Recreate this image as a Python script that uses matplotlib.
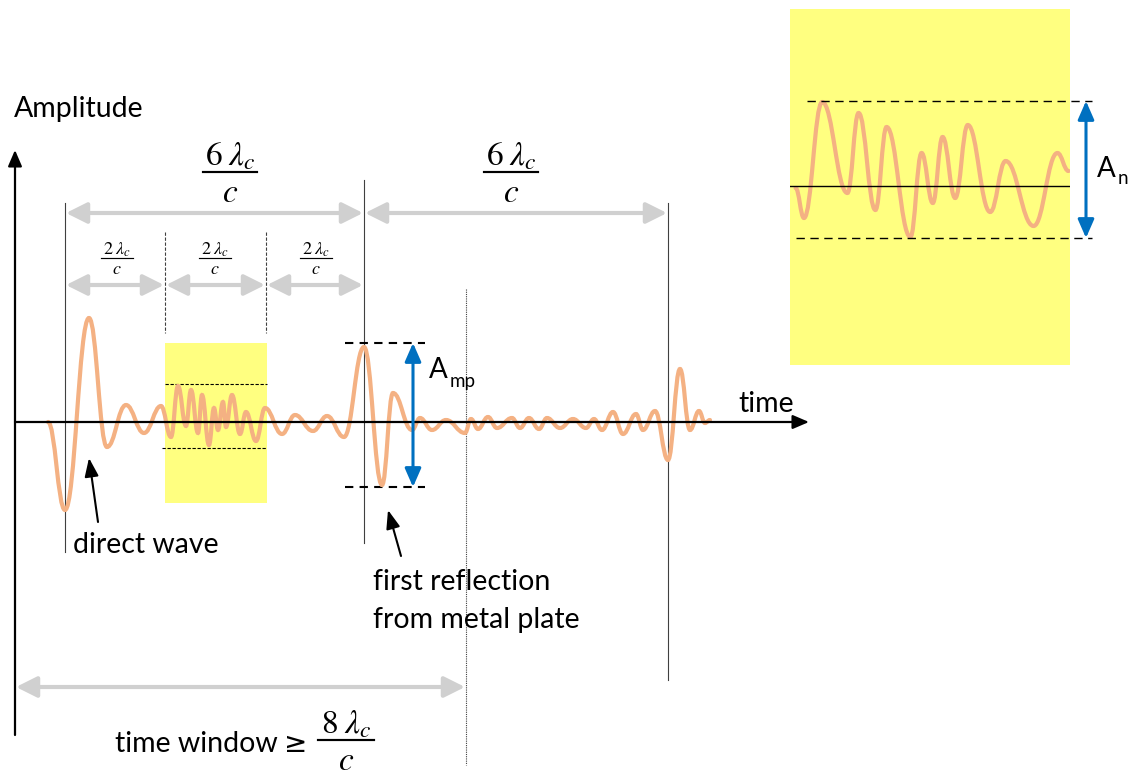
import matplotlib
matplotlib.use("Agg")
import matplotlib.pyplot as plt
from matplotlib.path import Path
from matplotlib.patches import PathPatch, FancyArrowPatch, Rectangle
import matplotlib.transforms as mtransforms

plt.rcParams['mathtext.fontset'] = 'stix'
FONT = 'Lato'

# ----------------------------
# DATA (time in lambda_c / c units, amplitude arbitrary)
# ----------------------------

# extrema of the recorded trace
wave_t = [-0.34, 0.00, 0.48, 0.84, 1.22, 1.58, 1.92, 2.12, 2.26, 2.42, 2.52, 2.66,
          2.74, 2.88, 2.98, 3.06, 3.16, 3.22, 3.34, 3.50, 3.62, 3.82, 4.00, 4.34,
          4.60, 4.96, 5.24, 5.58, 5.98, 6.34, 6.56, 6.94, 7.10, 7.34, 7.62, 8.00,
          8.12, 8.26, 8.46, 8.64, 8.94, 9.10, 9.28, 9.48, 9.64, 9.90, 10.16, 10.42,
          10.58, 10.74, 10.96, 11.16, 11.42, 11.56, 11.80, 12.06, 12.30, 12.50,
          12.68, 12.80, 12.90]
wave_a = [0.00, -0.88, 1.04, -0.25, 0.17, -0.11, 0.16, -0.15, 0.36, -0.04, 0.32, -0.11,
          0.27, -0.23, 0.14, -0.08, 0.20, -0.05, 0.27, -0.12, 0.10, -0.19, 0.14, -0.12,
          0.07, -0.09, 0.06, -0.15, 0.75, -0.63, 0.29, -0.08, 0.04, -0.08, 0.02, -0.11,
          0.03, -0.07, 0.05, -0.06, 0.04, -0.06, 0.04, -0.07, 0.04, -0.06, 0.03, -0.06,
          0.03, -0.08, 0.10, -0.12, 0.08, -0.08, 0.11, -0.38, 0.53, -0.08,
          0.11, -0.01, 0.02]

# zoomed noise window (t = 2 .. 4)
zoom_t = [2.04, 2.10, 2.23, 2.41, 2.49, 2.61, 2.69, 2.86, 2.94, 3.02, 3.09,
          3.18, 3.27, 3.43, 3.54, 3.74, 3.91, 3.99]
zoom_a = [-0.02, -0.32, 0.84, -0.07, 0.73, -0.24, 0.59, -0.51, 0.33, -0.17, 0.49,
          -0.12, 0.61, -0.26, 0.25, -0.40, 0.33, 0.15]

WAVE = '#F4B183'
GREY = '#D0D0D0'
BLUE = '#0070C0'


def smooth_path(xs, ys):
    # bezier through the extrema, flat at each turning point
    verts = [(xs[0], ys[0])]
    codes = [Path.MOVETO]
    for i in range(1, len(xs)):
        dx = xs[i] - xs[i - 1]
        verts += [(xs[i - 1] + 0.42 * dx, ys[i - 1]),
                  (xs[i] - 0.42 * dx, ys[i]),
                  (xs[i], ys[i])]
        codes += [Path.CURVE4] * 3
    return Path(verts, codes)


fig = plt.figure(figsize=(11.32, 7.76), dpi=100)
fig.patch.set_facecolor('white')

# inset with the noise window (drawn below the main layer)
ins = fig.add_axes([790 / 1132, 1 - 365 / 776, 280 / 1132, 356 / 776])
ins.set_facecolor('#FFFF80')
ins.set_xlim(2, 4)
ins.set_ylim(-1.79, 1.77)
ins.axhline(0, color='black', lw=1)
ins.add_patch(PathPatch(smooth_path(zoom_t, zoom_a), fill=False, ec=WAVE, lw=3,
                        capstyle='round'))
ins.set_xticks([])
ins.set_yticks([])
for s in ins.spines.values():
    s.set_visible(False)
ins.set_zorder(1)

ax = fig.add_axes([0, 0, 1, 1])
ax.set_xlim(-65 / 50, (1132 - 65) / 50)
ax.set_ylim((422 - 776) / 100, 422 / 100)
ax.axis('off')
ax.patch.set_visible(False)
ax.set_zorder(2)

# pixel transform, origin top-left
px = mtransforms.Affine2D().scale(1, -1).translate(0, 776)

ax.add_patch(PathPatch(smooth_path(wave_t, wave_a), fill=False, ec=WAVE, lw=3,
                       capstyle='round', zorder=3))


def line(xs, ys, **kw):
    ax.plot(xs, ys, transform=px, **kw)


def arrow(p0, p1, style, color, lw, ms, z=4):
    ax.add_patch(FancyArrowPatch(p0, p1, arrowstyle=style, color=color, lw=lw,
                                 mutation_scale=ms, shrinkA=0, shrinkB=0,
                                 transform=px, zorder=z))


def txt(x, y, s, size=20.5, **kw):
    kw.setdefault('family', FONT)
    ax.text(x, y, s, fontsize=size, transform=px, va='baseline', **kw)


def frac(xc, ybar, num, size, half):
    ax.text(xc, ybar - 0.2 * size * 1.39, num, fontsize=size, transform=px,
            ha='center', va='baseline')
    line([xc - half, xc + half], [ybar, ybar], color='black', lw=max(0.8, 1.5 * size / 23))
    ax.text(xc, ybar + 0.13 * size * 1.39, r'$c$', fontsize=size, transform=px,
            ha='center', va='top')


# small yellow window on the trace
ax.add_patch(Rectangle((165, 343), 102, 160, transform=px, fc='#FFFF80', ec='none', zorder=1))
line([165, 267], [384, 384], color='black', lw=0.8, ls=(0, (3, 1.5)), zorder=2)
line([162, 267], [448, 448], color='black', lw=0.8, ls=(0, (3, 1.5)), zorder=2)

# axes
arrow((15, 735), (15, 150), '-|>,head_length=0.7,head_width=0.3', 'black', 1.6, 14)
arrow((15, 422), (809, 422), '-|>,head_length=0.7,head_width=0.3', 'black', 1.6, 14)

# vertical markers
line([65, 65], [203, 552], color='#404040', lw=0.8, zorder=2)
line([364, 364], [180, 543], color='#404040', lw=0.8, zorder=2)
line([668, 668], [203, 680], color='#404040', lw=0.8, zorder=2)
line([466, 466], [289, 765], color='#404040', lw=0.8, ls=(0, (1, 1)), zorder=2)
line([165, 165], [232, 333], color='#404040', lw=0.8, ls=(0, (3, 1.5)), zorder=2)
line([266, 266], [232, 333], color='#404040', lw=0.8, ls=(0, (3, 1.5)), zorder=2)

# grey spans
gs = '<|-|>,head_length=0.9,head_width=0.45'
arrow((66, 213), (363, 213), gs, GREY, 3, 14)
arrow((365, 213), (667, 213), gs, GREY, 3, 14)
arrow((66, 285), (164, 285), gs, GREY, 3, 14)
arrow((166, 285), (265, 285), gs, GREY, 3, 14)
arrow((267, 285), (363, 285), gs, GREY, 3, 14)
arrow((16, 687), (465, 687), gs, GREY, 3, 14)

# fractions
frac(230, 172, r'$6\;\lambda_c$', 24, 27)
frac(511, 172, r'$6\;\lambda_c$', 24, 27)
for xc in [117, 215, 316]:
    frac(xc, 258, r'$2\;\lambda_c$', 13, 16)
frac(346, 740, r'$8\;\lambda_c$', 24, 28)

# first reflection amplitude
line([345, 425], [343, 343], color='black', lw=1.5, ls=(0, (4, 3)), zorder=2)
line([345, 425], [487, 487], color='black', lw=1.5, ls=(0, (4, 3)), zorder=2)
arrow((413, 487), (413, 343), '<|-|>,head_length=0.8,head_width=0.35', BLUE, 2.2, 14, z=5)
txt(429, 378, 'A', 20)
txt(450, 387, 'mp', 13.5)

# noise amplitude
line([807, 1092], [101, 101], color='black', lw=1, ls=(0, (6, 4)))
line([796, 1092], [238, 238], color='black', lw=1, ls=(0, (6, 4)))
arrow((1086, 238), (1086, 101), '<|-|>,head_length=0.8,head_width=0.35', BLUE, 2.2, 14, z=5)
txt(1097, 177, 'A', 20)
txt(1118, 184, 'n', 13.5)

# pointers
arrow((98, 522), (89, 458), '-|>,head_length=0.8,head_width=0.3', 'black', 1.5, 14)
arrow((401, 556), (388, 510), '-|>,head_length=0.8,head_width=0.3', 'black', 1.5, 14)

# labels
txt(14, 117, 'Amplitude')
txt(738, 412, 'time')
txt(73, 553, 'direct wave')
txt(373, 590, 'first reflection')
txt(373, 628, 'from metal plate')
txt(115, 752, 'time window')
ax.text(296, 752, '≥', fontsize=20, transform=px, ha='center', va='baseline',
        family='DejaVu Sans')

fig.savefig('out.png', dpi=100, facecolor='white')
